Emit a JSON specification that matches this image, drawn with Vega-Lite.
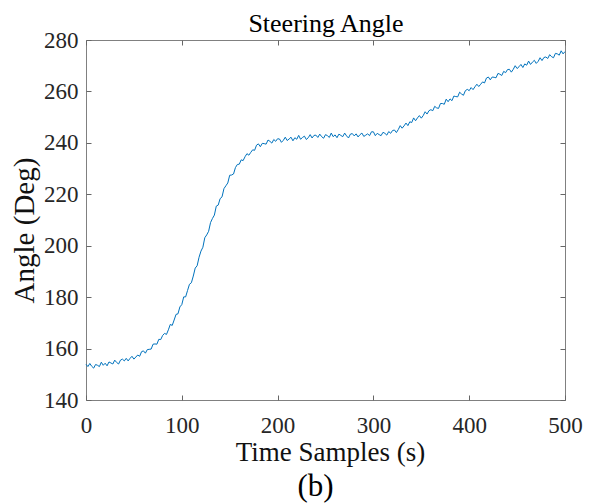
{
  "$schema": "https://vega.github.io/schema/vega-lite/v6.json",
  "width": 479,
  "height": 360,
  "autosize": {"type": "none"},
  "padding": {"left": 86, "top": 40, "right": 27, "bottom": 104},
  "background": "white",
  "title": {"text": "(b)", "orient": "bottom", "anchor": "middle", "frame": "group", "font": "Liberation Serif", "fontSize": 31, "fontWeight": "normal", "color": "#000000", "offset": 7, "dx": -10},
  "config": {
    "view": {"stroke": "#808080", "strokeWidth": 1},
    "axis": {
      "grid": false,
      "domain": false,
      "ticks": true,
      "tickSize": -5,
      "tickColor": "#666666",
      "tickWidth": 1,
      "labelFlush": false,
      "labelFont": "Liberation Serif",
      "labelFontSize": 23,
      "labelColor": "#262626",
      "titleFont": "Liberation Serif",
      "titleFontSize": 26,
      "titleFontWeight": "normal",
      "titleColor": "#111111"
    }
  },
  "data": {"values": [
    {"t":0,"angle":153.9},{"t":2,"angle":153.0},{"t":4,"angle":154.2},{"t":6,"angle":153.1},{"t":8,"angle":152.4},{"t":10,"angle":153.8},{"t":12,"angle":153.5},{"t":14,"angle":153.0},{"t":16,"angle":154.7},{"t":18,"angle":153.5},
    {"t":20,"angle":154.3},{"t":22,"angle":153.3},{"t":24,"angle":154.8},{"t":26,"angle":154.4},{"t":28,"angle":154.0},{"t":30,"angle":155.5},{"t":32,"angle":154.6},{"t":34,"angle":154.0},{"t":36,"angle":155.5},{"t":38,"angle":155.9},
    {"t":40,"angle":155.2},{"t":42,"angle":156.2},{"t":44,"angle":155.2},{"t":46,"angle":156.2},{"t":48,"angle":157.0},{"t":50,"angle":155.9},{"t":52,"angle":156.7},{"t":54,"angle":157.5},{"t":56,"angle":157.0},{"t":58,"angle":158.8},
    {"t":60,"angle":159.1},{"t":62,"angle":158.2},{"t":64,"angle":159.6},{"t":66,"angle":159.7},{"t":68,"angle":159.8},{"t":70,"angle":161.7},{"t":72,"angle":161.8},{"t":74,"angle":161.7},{"t":76,"angle":163.6},{"t":78,"angle":163.5},
    {"t":80,"angle":165.1},{"t":82,"angle":165.9},{"t":84,"angle":165.5},{"t":86,"angle":167.3},{"t":88,"angle":169.4},{"t":90,"angle":169.0},{"t":92,"angle":171.1},{"t":94,"angle":173.3},{"t":96,"angle":173.5},{"t":98,"angle":176.2},
    {"t":100,"angle":177.1},{"t":102,"angle":180.1},{"t":104,"angle":180.1},{"t":106,"angle":182.6},{"t":108,"angle":185.0},{"t":110,"angle":185.6},{"t":112,"angle":188.2},{"t":114,"angle":191.3},{"t":116,"angle":192.2},{"t":118,"angle":195.5},
    {"t":120,"angle":197.9},{"t":122,"angle":199.4},{"t":124,"angle":203.1},{"t":126,"angle":204.2},{"t":128,"angle":205.6},{"t":130,"angle":209.0},{"t":132,"angle":210.6},{"t":134,"angle":211.9},{"t":136,"angle":215.4},{"t":138,"angle":215.8},
    {"t":140,"angle":218.3},{"t":142,"angle":219.0},{"t":144,"angle":222.2},{"t":146,"angle":223.3},{"t":148,"angle":224.4},{"t":150,"angle":227.4},{"t":152,"angle":227.5},{"t":154,"angle":227.9},{"t":156,"angle":230.4},{"t":158,"angle":231.6},
    {"t":160,"angle":231.7},{"t":162,"angle":233.4},{"t":164,"angle":233.1},{"t":166,"angle":234.6},{"t":168,"angle":235.8},{"t":170,"angle":235.2},{"t":172,"angle":236.3},{"t":174,"angle":237.3},{"t":176,"angle":237.1},{"t":178,"angle":239.1},
    {"t":180,"angle":239.6},{"t":182,"angle":238.5},{"t":184,"angle":239.8},{"t":186,"angle":239.7},{"t":188,"angle":239.5},{"t":190,"angle":241.1},{"t":192,"angle":240.6},{"t":194,"angle":239.9},{"t":196,"angle":241.3},{"t":198,"angle":240.6},
    {"t":200,"angle":241.6},{"t":202,"angle":241.5},{"t":204,"angle":240.2},{"t":206,"angle":241.0},{"t":208,"angle":242.2},{"t":210,"angle":240.9},{"t":212,"angle":241.5},{"t":214,"angle":242.2},{"t":216,"angle":240.8},{"t":218,"angle":242.0},
    {"t":220,"angle":241.4},{"t":222,"angle":242.9},{"t":224,"angle":241.4},{"t":226,"angle":242.1},{"t":228,"angle":242.6},{"t":230,"angle":241.3},{"t":232,"angle":242.0},{"t":234,"angle":243.2},{"t":236,"angle":241.9},{"t":238,"angle":242.9},
    {"t":240,"angle":243.0},{"t":242,"angle":242.1},{"t":244,"angle":243.4},{"t":246,"angle":242.4},{"t":248,"angle":241.8},{"t":250,"angle":243.2},{"t":252,"angle":242.8},{"t":254,"angle":242.1},{"t":256,"angle":243.8},{"t":258,"angle":242.4},
    {"t":260,"angle":243.1},{"t":262,"angle":242.0},{"t":264,"angle":243.4},{"t":266,"angle":242.9},{"t":268,"angle":242.4},{"t":270,"angle":243.8},{"t":272,"angle":242.7},{"t":274,"angle":241.9},{"t":276,"angle":243.4},{"t":278,"angle":243.6},
    {"t":280,"angle":242.7},{"t":282,"angle":243.5},{"t":284,"angle":242.3},{"t":286,"angle":243.2},{"t":288,"angle":243.8},{"t":290,"angle":242.5},{"t":292,"angle":243.0},{"t":294,"angle":243.5},{"t":296,"angle":242.8},{"t":298,"angle":244.3},
    {"t":300,"angle":244.3},{"t":302,"angle":242.8},{"t":304,"angle":243.7},{"t":306,"angle":243.2},{"t":308,"angle":242.8},{"t":310,"angle":244.1},{"t":312,"angle":243.7},{"t":314,"angle":243.0},{"t":316,"angle":244.4},{"t":318,"angle":243.7},
    {"t":320,"angle":244.8},{"t":322,"angle":245.0},{"t":324,"angle":244.0},{"t":326,"angle":245.2},{"t":328,"angle":246.7},{"t":330,"angle":245.7},{"t":332,"angle":246.6},{"t":334,"angle":247.7},{"t":336,"angle":246.7},{"t":338,"angle":248.2},
    {"t":340,"angle":247.9},{"t":342,"angle":249.7},{"t":344,"angle":248.6},{"t":346,"angle":249.7},{"t":348,"angle":250.6},{"t":350,"angle":249.6},{"t":352,"angle":250.6},{"t":354,"angle":252.1},{"t":356,"angle":251.2},{"t":358,"angle":252.5},
    {"t":360,"angle":252.9},{"t":362,"angle":252.5},{"t":364,"angle":254.2},{"t":366,"angle":253.6},{"t":368,"angle":253.4},{"t":370,"angle":255.3},{"t":372,"angle":255.3},{"t":374,"angle":255.0},{"t":376,"angle":257.0},{"t":378,"angle":256.0},
    {"t":380,"angle":257.1},{"t":382,"angle":256.4},{"t":384,"angle":258.2},{"t":386,"angle":258.0},{"t":388,"angle":257.9},{"t":390,"angle":259.7},{"t":392,"angle":259.0},{"t":394,"angle":258.5},{"t":396,"angle":260.3},{"t":398,"angle":260.8},
    {"t":400,"angle":260.3},{"t":402,"angle":261.5},{"t":404,"angle":260.7},{"t":406,"angle":261.8},{"t":408,"angle":262.8},{"t":410,"angle":261.9},{"t":412,"angle":262.8},{"t":414,"angle":263.7},{"t":416,"angle":263.3},{"t":418,"angle":265.2},
    {"t":420,"angle":265.6},{"t":422,"angle":264.5},{"t":424,"angle":265.6},{"t":426,"angle":265.5},{"t":428,"angle":265.3},{"t":430,"angle":267.0},{"t":432,"angle":266.7},{"t":434,"angle":266.2},{"t":436,"angle":267.8},{"t":438,"angle":267.3},
    {"t":440,"angle":268.5},{"t":442,"angle":268.6},{"t":444,"angle":267.5},{"t":446,"angle":268.6},{"t":448,"angle":270.0},{"t":450,"angle":268.9},{"t":452,"angle":269.6},{"t":454,"angle":270.5},{"t":456,"angle":269.3},{"t":458,"angle":270.7},
    {"t":460,"angle":270.2},{"t":462,"angle":271.8},{"t":464,"angle":270.5},{"t":466,"angle":271.4},{"t":468,"angle":272.1},{"t":470,"angle":270.9},{"t":472,"angle":271.7},{"t":474,"angle":273.1},{"t":476,"angle":272.0},{"t":478,"angle":273.2},
    {"t":480,"angle":273.4},{"t":482,"angle":272.8},{"t":484,"angle":274.3},{"t":486,"angle":273.5},{"t":488,"angle":273.1},{"t":490,"angle":274.8},{"t":492,"angle":274.6},{"t":494,"angle":274.1},{"t":496,"angle":275.8},{"t":498,"angle":274.6},
    {"t":500,"angle":275.5}
  ]},
  "layer": [
    {
      "mark": {"type": "line", "color": "#0072BD", "strokeWidth": 1},
      "encoding": {
        "x": {"field": "t", "type": "quantitative", "scale": {"domain": [0, 500], "nice": false, "zero": false},
              "axis": {"orient": "bottom", "values": [0, 100, 200, 300, 400, 500], "labelPadding": 19, "title": "Time Samples (s)", "titleFontSize": 27, "titlePadding": 2, "titleX": 244}},
        "y": {"field": "angle", "type": "quantitative", "scale": {"domain": [140, 280], "nice": false, "zero": false},
              "axis": {"orient": "left", "values": [140, 160, 180, 200, 220, 240, 260, 280], "labelPadding": 13, "title": "Angle (Deg)", "titleFontSize": 29, "titlePadding": 4, "titleY": 190}}
      }
    },
    {
      "mark": {"type": "line", "opacity": 0},
      "encoding": {
        "x": {"field": "t", "type": "quantitative", "scale": {"domain": [0, 500], "nice": false, "zero": false},
              "axis": {"orient": "top", "values": [0, 100, 200, 300, 400, 500], "labels": false, "title": "Steering Angle", "titlePadding": 3, "titleColor": "#000000"}},
        "y": {"field": "angle", "type": "quantitative", "scale": {"domain": [140, 280], "nice": false, "zero": false},
              "axis": {"orient": "right", "values": [140, 160, 180, 200, 220, 240, 260, 280], "labels": false, "title": null}}
      }
    }
  ],
  "resolve": {"axis": {"x": "independent", "y": "independent"}}
}
